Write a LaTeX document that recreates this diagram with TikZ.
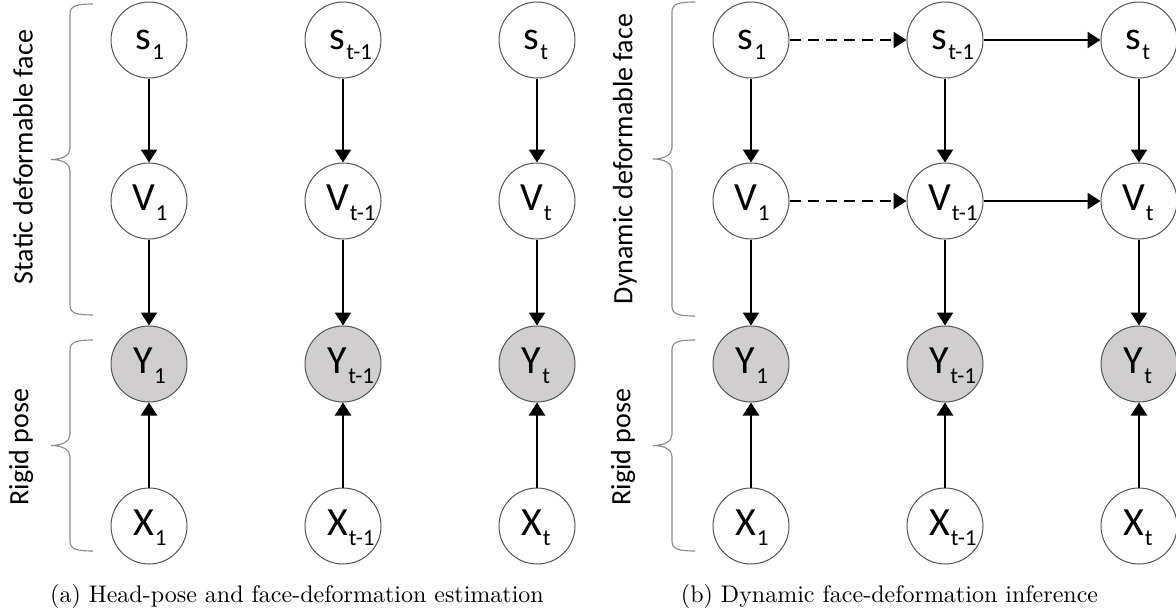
\documentclass[tikz,border=0pt]{standalone}
\usepackage{fontspec}
\usepackage{graphicx}
\newfontfamily\carl{Carlito}
\usetikzlibrary{arrows.meta}
\definecolor{obsgray}{HTML}{D0CECE}
\definecolor{rimgray}{HTML}{555555}
\definecolor{bracegray}{HTML}{8A8A8A}
\newcommand\nl[2]{#1\rlap{\kern1pt\raisebox{-9.5pt}{\fontsize{23}{23}\selectfont #2}}\kern11pt}
\begin{document}
\begin{tikzpicture}[x=1pt,y=-1pt,
  var/.style={circle, draw=rimgray, line width=1pt, fill=white, minimum size=76pt,
    inner sep=0pt, text height=19pt, text depth=0pt, font=\carl\fontsize{40}{40}\selectfont},
  obs/.style={var, fill=obsgray},
  arr/.style={line width=2.4pt, -{Triangle[length=13pt,width=16pt]}},
  darr/.style={arr, dash pattern=on 11pt off 7pt},
  brace/.style={draw=bracegray, line width=1.1pt},
  side/.style={rotate=90, font=\carl\fontsize{28}{28}\selectfont},
  pics/sbrace/.style={code={
    \draw[brace] (23,-#1) .. controls (6,-#1) and (0,-#1+2) .. (0,-#1+10) -- (0,-11)
      .. controls (0,-4) and (-8,0) .. (-19,0) .. controls (-8,0) and (0,4) .. (0,11)
      -- (0,#1-10) .. controls (0,#1-2) and (6,#1) .. (23,#1);}}
]
\fill[white] (0,0) rectangle (1176,616);
\useasboundingbox (0,0) rectangle (1176,616);

% ---------- panel (a) ----------
\pic at (70,159.5) {sbrace=155.5};
\pic at (70,445.5) {sbrace=105.5};
\node[side] (la1) at (23,157) {Static deformable face};
\node[side] (la2) at (21,447) {Rigid pose};

\node[var] (sa1) at (149,40) {\nl{s}{1}};
\node[var] (sa2) at (343,40) {\nl{s}{t-1}};
\node[var] (sa3) at (537,40) {\nl{s}{t}};
\node[var] (va1) at (149,201) {\nl{V}{1}};
\node[var] (va2) at (343,201) {\nl{V}{t-1}};
\node[var] (va3) at (537,201) {\nl{V}{t}};
\node[obs] (ya1) at (149,364) {\nl{Y}{1}};
\node[obs] (ya2) at (343,364) {\nl{Y}{t-1}};
\node[obs] (ya3) at (537,364) {\nl{Y}{t}};
\node[var] (xa1) at (149,526) {\nl{X}{1}};
\node[var] (xa2) at (343,526) {\nl{X}{t-1}};
\node[var] (xa3) at (537,526) {\nl{X}{t}};
\foreach \i in {1,2,3}{
  \draw[arr] (sa\i) -- (va\i);
  \draw[arr] (va\i) -- (ya\i);
  \draw[arr] (xa\i) -- (ya\i);
}
\node[anchor=base] (capa) at (297,602) {\scalebox{2.4}{\fontsize{10}{12}\selectfont (a) Head-pose and face-deformation estimation}};

% ---------- panel (b) ----------
\pic at (672,159) {sbrace=157};
\pic at (672,445.5) {sbrace=105.5};
\node[side] (lb1) at (625,159) {Dynamic deformable face};
\node[side] (lb2) at (623,447) {Rigid pose};

\node[var] (sb1) at (751,40) {\nl{s}{1}};
\node[var] (sb2) at (945,40) {\nl{s}{t-1}};
\node[var] (sb3) at (1139,40) {\nl{s}{t}};
\node[var] (vb1) at (751,201) {\nl{V}{1}};
\node[var] (vb2) at (945,201) {\nl{V}{t-1}};
\node[var] (vb3) at (1139,201) {\nl{V}{t}};
\node[obs] (yb1) at (751,364) {\nl{Y}{1}};
\node[obs] (yb2) at (945,364) {\nl{Y}{t-1}};
\node[obs] (yb3) at (1139,364) {\nl{Y}{t}};
\node[var] (xb1) at (751,526) {\nl{X}{1}};
\node[var] (xb2) at (945,526) {\nl{X}{t-1}};
\node[var] (xb3) at (1139,526) {\nl{X}{t}};
\foreach \i in {1,2,3}{
  \draw[arr] (sb\i) -- (vb\i);
  \draw[arr] (vb\i) -- (yb\i);
  \draw[arr] (xb\i) -- (yb\i);
}
\draw[darr] (sb1) -- (sb2);
\draw[arr] (sb2) -- (sb3);
\draw[darr] (vb1) -- (vb2);
\draw[arr] (vb2) -- (vb3);
\node[anchor=base] (capb) at (889.5,602) {\scalebox{2.4}{\fontsize{10}{12}\selectfont (b) Dynamic face-deformation inference}};
\end{tikzpicture}
\end{document}
